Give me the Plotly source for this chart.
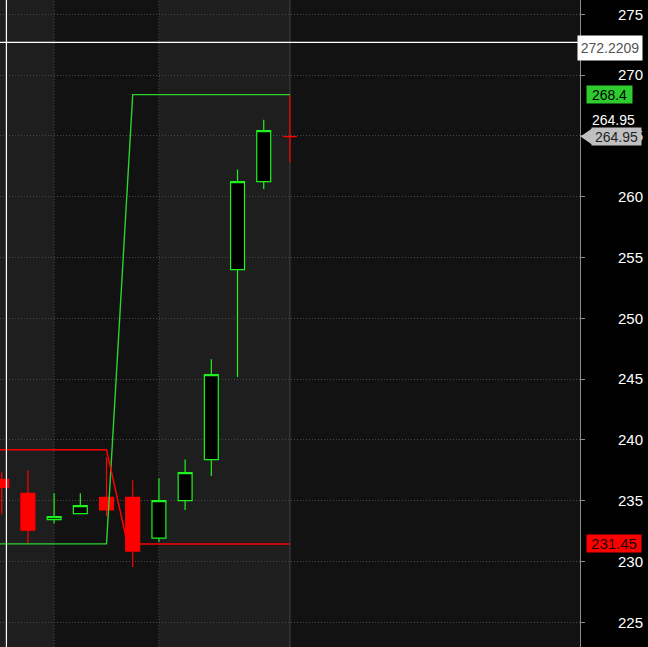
import plotly.graph_objects as go

# candles, indexed by bar number
bars = [0, 1, 2, 3, 4, 5, 6, 7, 8, 9, 10, 11]
opens = [236.76, 235.61, 233.45, 233.94, 235.28, 235.28, 231.93, 235.00, 238.38, 254.00, 261.24, 264.95]
highs = [237.34, 237.50, 235.61, 235.61, 238.57, 236.68, 236.84, 238.38, 246.63, 262.25, 266.34, 268.35]
lows = [233.88, 231.50, 233.14, 233.94, 233.72, 229.55, 231.60, 234.24, 237.03, 245.17, 260.63, 262.85]
closes = [236.10, 232.57, 233.69, 234.60, 234.24, 230.86, 235.00, 237.31, 245.37, 261.24, 265.44, 264.95]

# trailing stop lines
green_x = [-1, 0, 1, 2, 3, 4, 5, 6, 7, 8, 9, 10, 11]
green_y = [231.45, 231.45, 231.45, 231.45, 231.45, 231.45, 268.4, 268.4, 268.4, 268.4, 268.4, 268.4, 268.4]
red_x = [-1, 0, 1, 2, 3, 4, 4.8, 5, 6, 7, 8, 9, 10, 11]
red_y = [239.2, 239.2, 239.2, 239.2, 239.2, 239.2, 231.45, 231.45, 231.45, 231.45, 231.45, 231.45, 231.45, 231.45]

# session shading and separators
light_bands = [(-1, 2), (6, 11)]
dotted_seps = [2, 6]
solid_sep = 11

# crosshair
cross_x = 0.18
cross_y = 272.7
cross_label = 272.2209

last_price = 264.95
green_level = 268.4
red_level = 231.45

y_ticks = [225, 230, 235, 240, 245, 250, 255, 260, 265, 270, 275]

PLOT_W = 580.0


def px(v):
    return v / PLOT_W


FONT = "Liberation Sans"

fig = go.Figure()

fig.add_trace(go.Scatter(
    x=green_x, y=green_y, mode='lines',
    line=dict(color='#2ed22e', width=1.4), hoverinfo='skip'
))
fig.add_trace(go.Scatter(
    x=red_x, y=red_y, mode='lines',
    line=dict(color='#ff0000', width=1.5), hoverinfo='skip'
))

fig.add_trace(go.Candlestick(
    x=bars, open=opens, high=highs, low=lows, close=closes,
    increasing=dict(line=dict(color='#1ff21f', width=1.2), fillcolor='#000000'),
    decreasing=dict(line=dict(color='#ff0000', width=1.2), fillcolor='#ff0000'),
    whiskerwidth=0, hoverinfo='skip'
))

shapes = []
for x0, x1 in light_bands:
    shapes.append(dict(type='rect', xref='x', yref='paper', x0=x0, x1=x1, y0=0, y1=1,
                       fillcolor='#1e1e1e', line=dict(width=0), layer='below'))
for xs in dotted_seps:
    shapes.append(dict(type='line', xref='x', yref='paper', x0=xs, x1=xs, y0=0, y1=1,
                       line=dict(color='#484848', width=1, dash='1px,2px'), layer='below'))
shapes.append(dict(type='line', xref='x', yref='paper', x0=solid_sep, x1=solid_sep, y0=0, y1=1,
                   line=dict(color='#444444', width=1), layer='below'))

# crosshair
shapes.append(dict(type='line', xref='x', yref='paper', x0=cross_x, x1=cross_x, y0=0, y1=1,
                   line=dict(color='#ffffff', width=1.2)))
shapes.append(dict(type='line', xref='paper', yref='y', x0=0, x1=1, y0=cross_y, y1=cross_y,
                   line=dict(color='#ffffff', width=1.2)))

# arrow tip of the last price label
shapes.append(dict(type='path', xref='paper', yref='y',
                   path=f'M {px(580.5)} {last_price} L {px(593)} {last_price + 0.72} '
                        f'L {px(593)} {last_price - 0.72} Z',
                   fillcolor='#c0c0c0', line=dict(width=0)))

annotations = [
    dict(xref='paper', yref='y', x=px(643), y=cross_label, xanchor='right', yanchor='middle',
         text=f'{cross_label}', showarrow=False, bgcolor='#ffffff', borderpad=3,
         width=58, height=18,
         font=dict(family=FONT, size=14, color='#555555')),
    dict(xref='paper', yref='y', x=px(633), y=green_level, xanchor='right', yanchor='middle',
         text=f'{green_level}', showarrow=False, bgcolor='#2ecc2e', borderpad=0,
         width=45, height=17,
         font=dict(family=FONT, size=14, color='#000000')),
    dict(xref='paper', yref='y', x=px(637), y=last_price, xanchor='right', yanchor='middle',
         text=f'{last_price}', showarrow=False, yshift=17,
         font=dict(family=FONT, size=14, color='#ffffff')),
    dict(xref='paper', yref='y', x=px(642), y=last_price, xanchor='right', yanchor='middle',
         text=f'{last_price}', showarrow=False, bgcolor='#c0c0c0', borderpad=0,
         width=49, height=17,
         font=dict(family=FONT, size=14, color='#222222')),
    dict(xref='paper', yref='y', x=px(642), y=red_level, xanchor='right', yanchor='middle',
         text=f'{red_level}', showarrow=False, bgcolor='#ff0000', borderpad=0,
         width=54, height=17,
         font=dict(family=FONT, size=15, color='#220000')),
]

fig.update_layout(
    width=648, height=647,
    margin=dict(l=0, r=68, t=0, b=0),
    paper_bgcolor='#000000',
    plot_bgcolor='#121212',
    showlegend=False,
    boxgap=0.24,
    shapes=shapes,
    annotations=annotations,
    font=dict(family=FONT, size=14, color='#ffffff'),
    xaxis=dict(
        range=[-0.065, 22.07], visible=False, showgrid=False, zeroline=False,
        rangeslider=dict(visible=False), fixedrange=True
    ),
    yaxis=dict(
        range=[222.97, 276.18], side='right', tickmode='array', tickvals=y_ticks,
        showgrid=True, gridcolor='#484848', griddash='1px,2px', gridwidth=1,
        zeroline=False, showline=True, linecolor='#8a8a8a', linewidth=1,
        ticks='outside', ticklen=4, tickcolor='#8a8a8a',
        tickfont=dict(family=FONT, size=15, color='#ffffff'),
        ticklabelstandoff=30, automargin=False, fixedrange=True
    ),
)

# page body has a default margin; drop it so the figure sits at the corner
fig.write_html("out.html", config={'displayModeBar': False},
               post_script="document.body.style.margin='0';")
